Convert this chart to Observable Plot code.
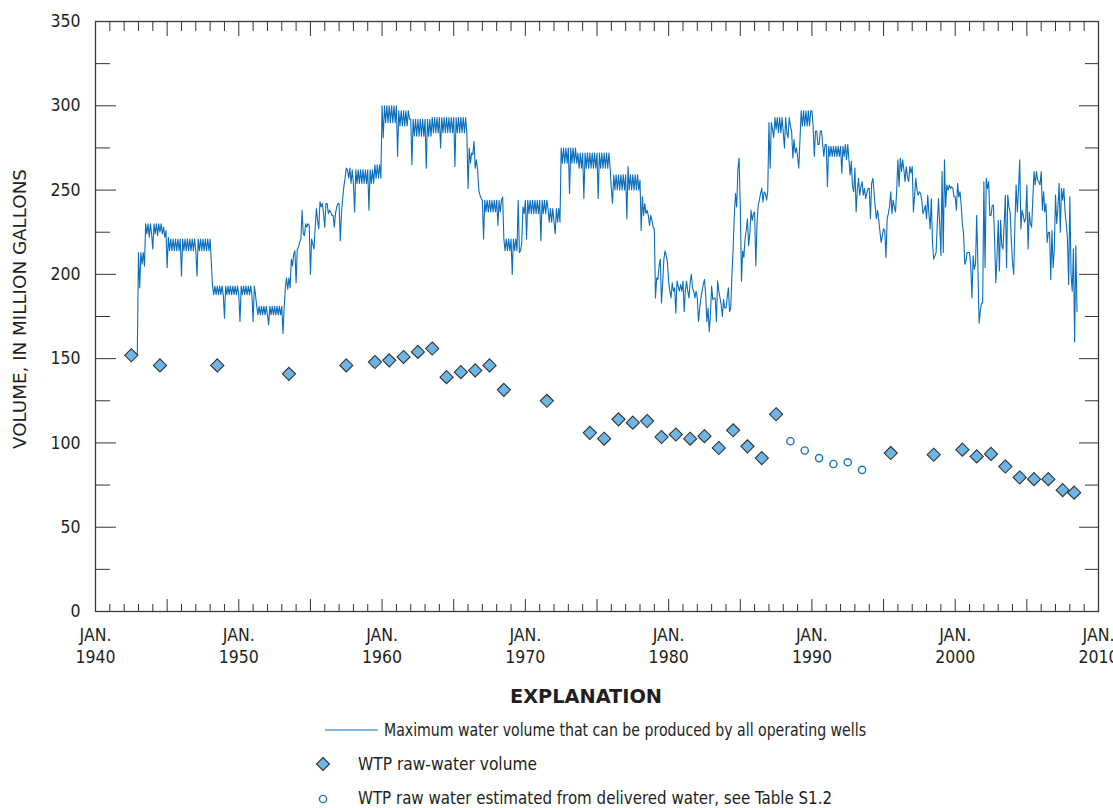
<!DOCTYPE html>
<html><head><meta charset="utf-8">
<script src="https://cdn.jsdelivr.net/npm/d3@7"></script>
<script src="https://cdn.jsdelivr.net/npm/@observablehq/plot@0.6"></script>
<style>
body{margin:0;background:#fff;}
#wrap{position:relative;width:1113px;height:808px;overflow:hidden;}
#wrap svg{display:block;}
#overlay{position:absolute;left:0;top:0;pointer-events:none;}
</style></head><body><div id="wrap"></div>
<script>
// ---- Data: maximum water volume that can be produced by all operating wells (monthly, million gallons)
const wellFirstYear = 1942;
const wellByYear = [
  [null,null,null,null,null,null,null,null,null,null,null,152],
  [213,192,213,206,213,205,230,224,230,222,230,224],
  [215,230,224,230,223,230,225,230,224,228,222,226],
  [204,222,214,221,214,221,214,221,214,221,214,221],
  [199,221,214,221,214,221,214,221,214,221,214,221],
  [214,199,221,214,221,214,221,214,221,214,221,214],
  [221,207,193,188,193,188,193,188,193,188,193,188],
  [174,193,188,193,188,193,188,193,188,193,188,193],
  [188,172,193,188,193,188,193,188,193,188,193,188],
  [172,193,188,181,176,181,176,181,176,181,176,181],
  [176,170,181,176,181,176,181,176,181,176,181,176],
  [181,165,180,192,198,191,198,192,209,205,212,214],
  [195,215,216,219,221,238,224,223,230,228,230,229],
  [200,221,218,215,228,239,232,227,243,240,242,236],
  [228,242,242,236,238,237,235,235,228,236,240,242],
  [242,220,236,245,252,257,263,262,257,263,254,262],
  [254,237,262,254,262,254,262,254,262,254,262,254],
  [262,238,262,254,262,254,265,257,265,257,265,257],
  [300,281,300,290,300,290,300,290,300,290,300,290],
  [300,270,297,288,297,288,297,288,297,288,297,292],
  [292,265,292,282,292,282,292,282,292,282,292,282],
  [292,263,292,282,292,282,293,284,293,284,293,284],
  [293,275,293,284,293,284,293,284,293,284,293,284],
  [293,264,293,284,293,284,293,284,293,284,293,284],
  [251,275,266,272,271,279,263,268,262,250,247,245],
  [244,221,244,237,244,237,244,237,244,237,244,237],
  [244,229,244,237,244,246,221,214,221,214,221,214],
  [221,200,221,214,221,214,244,213,214,219,240,236],
  [244,221,244,236,244,236,244,236,244,236,244,236],
  [244,220,244,236,244,236,244,239,231,239,231,239],
  [231,224,239,231,239,231,275,266,275,266,275,266],
  [275,248,275,266,275,266,275,266,272,263,272,263],
  [272,245,272,263,272,263,272,263,272,263,272,263],
  [272,245,272,263,272,263,272,263,272,263,272,263],
  [251,242,259,250,259,250,259,250,259,250,259,250],
  [259,233,264,250,259,250,259,250,259,250,259,250],
  [256,226,246,235,242,236,238,235,229,235,232,228],
  [227,186,198,197,205,209,183,195,209,214,211,207],
  [196,190,186,195,190,192,177,196,193,190,194,190],
  [196,178,190,196,190,186,195,200,192,190,186,190],
  [186,172,180,186,190,194,197,188,172,180,166,176],
  [193,185,186,186,172,196,190,186,182,175,185,180],
  [180,186,192,178,180,200,215,235,248,240,262,269],
  [240,196,214,210,221,226,233,217,224,238,232,236],
  [237,205,230,241,244,248,251,243,249,248,244,249],
  [290,263,290,286,281,293,286,293,284,293,284,293],
  [284,275,293,284,281,293,288,285,269,280,272,275],
  [270,263,280,297,288,297,288,297,288,297,288,297],
  [297,288,270,285,285,277,277,285,285,277,270,277],
  [277,252,276,270,276,270,276,270,276,270,276,270],
  [276,260,276,270,277,268,277,268,259,267,252,249],
  [263,237,250,257,247,252,255,247,251,245,248,251],
  [251,233,254,257,249,240,233,238,232,225,219,223],
  [227,226,210,233,236,240,249,236,244,240,237,250],
  [268,252,269,261,268,262,255,264,258,255,264,260],
  [264,237,247,257,250,247,249,248,244,236,238,241],
  [233,247,236,227,245,218,209,211,213,230,245,230],
  [211,261,213,268,240,253,250,253,251,252,251,246],
  [246,238,254,246,249,241,230,224,206,208,213,213],
  [213,205,186,211,203,206,235,205,171,178,183,183],
  [255,204,257,251,255,235,235,241,241,220,195,210],
  [232,202,232,217,215,230,247,204,247,240,237,220],
  [207,200,230,253,237,250,268,227,238,235,231,233],
  [253,215,237,230,228,245,261,253,261,256,255,253],
  [261,238,249,237,242,219,225,225,197,226,204,215],
  [247,230,240,254,225,251,244,251,237,230,221,194],
  [246,200,190,215,160,217,178]
];

// ---- WTP raw-water volume (annual)
const rawYears  = [1942.5,1944.5,1948.5,1953.5,1957.5,1959.5,1960.5,1961.5,1962.5,1963.5,1964.5,1965.5,1966.5,1967.5,1968.5,1971.5,1974.5,1975.5,1976.5,1977.5,1978.5,1979.5,1980.5,1981.5,1982.5,1983.5,1984.5,1985.5,1986.5,1987.5,1995.5,1998.5,2000.5,2001.5,2002.5,2003.5,2004.5,2005.5,2006.5,2007.5,2008.3];
const rawValues = [152,146,146,141,146,148,149,151,154,156,139,142,143,146,131.5,125,106,102.5,114,112,113,103.5,105,102.5,104,97,107.5,98,91,117,94,93,96,92,93.5,86,79.5,78.5,78.5,72,70.5];

// ---- WTP raw water estimated from delivered water
const estYears  = [1988.5,1989.5,1990.5,1991.5,1992.5,1993.5];
const estValues = [101,95.5,91,87.5,88.5,84];

// ---- Axis ticks
const xLabelTicks = [1940,1950,1960,1970,1980,1990,2000,2010];
const xMajorTicks = [1945,1950,1955,1960,1965,1970,1975,1980,1985,1990,1995,2000,2005];
const xMinorTicks = d3.range(1941,2010).filter(y => y % 5 !== 0);
const yLabelTicks = [0,50,100,150,200,250,300,350];
const yMajorTicks = [50,100,150,200,250,300];
const yMinorTicks = [25,75,125,175,225,275,325];

const wellData = [];
wellByYear.forEach((row,i) => row.forEach((v,m) => { if (v != null) wellData.push({t: wellFirstYear + i + m/12, v}); }));
const rawData = rawYears.map((t,i) => ({t, v: rawValues[i]}));
const estData = estYears.map((t,i) => ({t, v: estValues[i]}));

const FONT = '"Liberation Sans Narrow","Arial Narrow","DejaVu Sans Condensed","Roboto",sans-serif';
const INK = "#231f20";
const LINE = "#0a6ebd";
const blank = () => "";

const chart = Plot.plot({
  width: 1113, height: 675,
  marginLeft: 95, marginRight: 15, marginTop: 21, marginBottom: 64,
  style: {fontFamily: FONT, fontSize: "18px", color: INK, background: "white"},
  x: {domain: [1940, 2010]},
  y: {domain: [0, 350]},
  marks: [
    Plot.line(wellData, {x: "t", y: "v", stroke: LINE, strokeWidth: 1.1}),
    Plot.dot(rawData, {x: "t", y: "v", symbol: "diamond2", r: 5.9, fill: "#6cb5e5", stroke: "#333", strokeWidth: 1.1}),
    Plot.dot(estData, {x: "t", y: "v", r: 3.6, fill: "white", stroke: "#1b74c2", strokeWidth: 1.4}),
    // ticks pointing inward
    Plot.axisX(xMinorTicks, {anchor: "bottom", tickSize: -7, tickFormat: blank, label: null, stroke: "#333"}),
    Plot.axisX(xMajorTicks, {anchor: "bottom", tickSize: -12, tickFormat: blank, label: null, stroke: "#333"}),
    Plot.axisX(xMinorTicks, {anchor: "top", tickSize: -9, tickFormat: blank, label: null, stroke: "#333"}),
    Plot.axisX(xMajorTicks, {anchor: "top", tickSize: -14, tickFormat: blank, label: null, stroke: "#333"}),
    Plot.axisY(yMinorTicks, {anchor: "left", tickSize: -15, tickFormat: blank, label: null, stroke: "#333"}),
    Plot.axisY(yMajorTicks, {anchor: "left", tickSize: -21, tickFormat: blank, label: null, stroke: "#333"}),
    Plot.axisY(yMinorTicks, {anchor: "right", tickSize: -14, tickFormat: blank, label: null, stroke: "#333"}),
    Plot.axisY(yMajorTicks, {anchor: "right", tickSize: -20, tickFormat: blank, label: null, stroke: "#333"}),
    // tick labels
    Plot.axisX(xLabelTicks, {anchor: "bottom", tickSize: 0, tickPadding: 13, label: null, tickFormat: d => `JAN.\n${d}`, lineHeight: 1.3, fontSize: 17.5, fill: INK}),
    Plot.axisY(yLabelTicks, {anchor: "left", tickSize: 0, tickPadding: 15, label: null, fontSize: 17.5, fill: INK}),
    Plot.frame({stroke: "#3a3a3a", strokeWidth: 1.3})
  ]
});

const wrap = document.getElementById("wrap");
wrap.appendChild(chart);

// Overlay: y-axis title and explanation (legend)
const ns = "http://www.w3.org/2000/svg";
const ov = document.createElementNS(ns, "svg");
ov.setAttribute("id", "overlay");
ov.setAttribute("width", 1113); ov.setAttribute("height", 808);
ov.style.fontFamily = FONT;
ov.innerHTML = `
  <text x="0" y="0" transform="translate(19,309) rotate(-90)" text-anchor="middle" dominant-baseline="central" font-size="18.5" fill="${INK}" textLength="280" lengthAdjust="spacingAndGlyphs">VOLUME, IN MILLION GALLONS</text>
  <text x="586" y="696" text-anchor="middle" dominant-baseline="central" font-size="20" font-weight="bold" fill="${INK}" textLength="152" lengthAdjust="spacingAndGlyphs">EXPLANATION</text>
  <line x1="325" x2="378" y1="730" y2="730" stroke="${LINE}" stroke-width="1.2"/>
  <text x="384" y="730" dominant-baseline="central" font-size="17" fill="${INK}" textLength="482" lengthAdjust="spacingAndGlyphs">Maximum water volume that can be produced by all operating wells</text>
  <path d="M323,757.5 L329.5,764 L323,770.5 L316.5,764 Z" fill="#6cb5e5" stroke="#333" stroke-width="1.1"/>
  <text x="358" y="764" dominant-baseline="central" font-size="17" fill="${INK}" textLength="179" lengthAdjust="spacingAndGlyphs">WTP raw-water volume</text>
  <circle cx="323" cy="799" r="3.6" fill="white" stroke="#1b74c2" stroke-width="1.4"/>
  <text x="358" y="798" dominant-baseline="central" font-size="17" fill="${INK}" textLength="474" lengthAdjust="spacingAndGlyphs">WTP raw water estimated from delivered water, see Table S1.2</text>
`;
wrap.appendChild(ov);
</script>
</body></html>
